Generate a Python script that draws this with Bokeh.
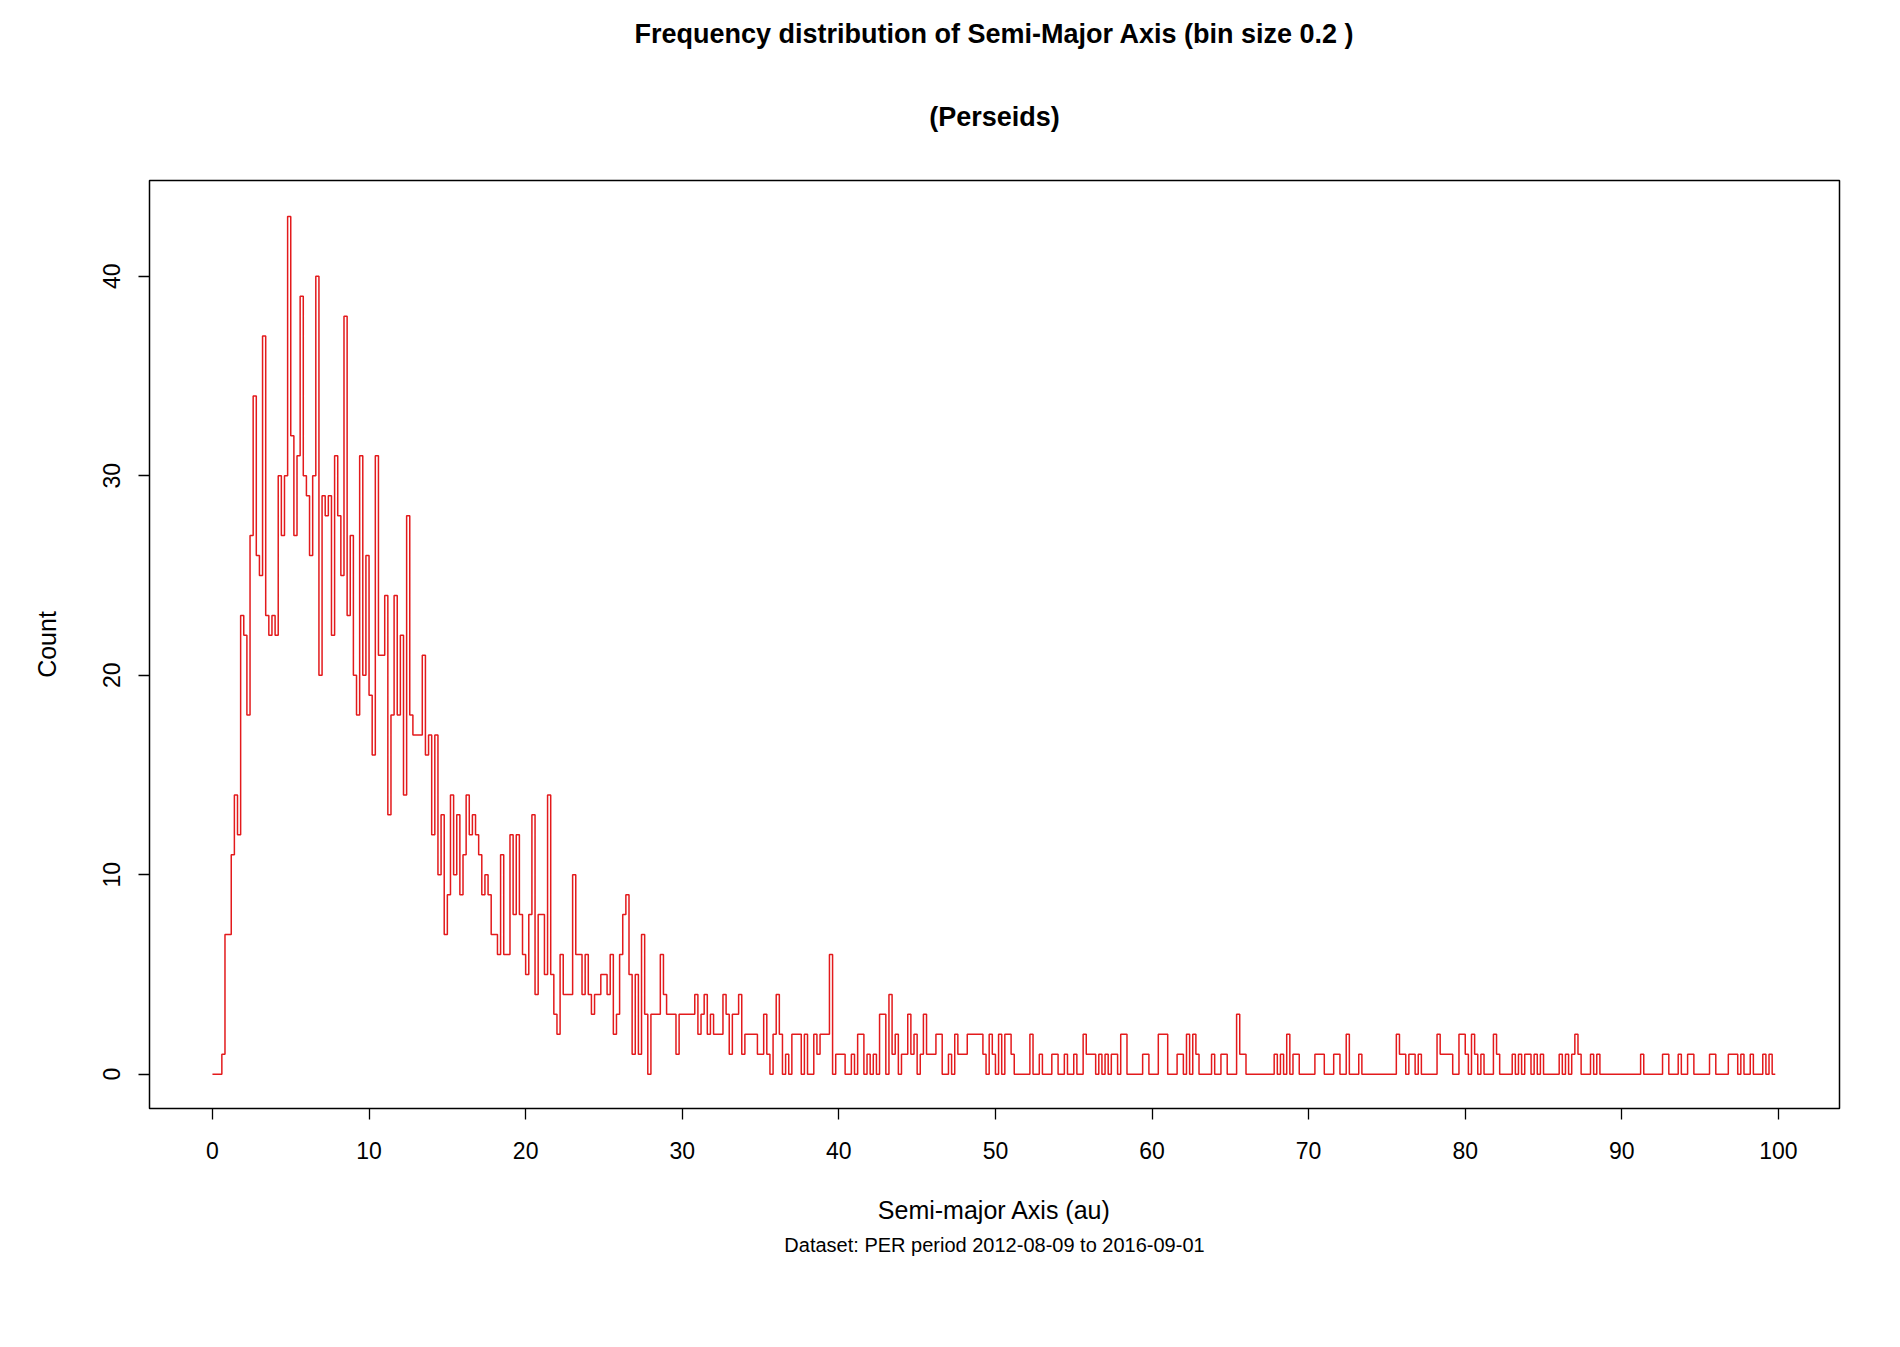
import numpy as np
from bokeh.plotting import figure
from bokeh.models import Title, FixedTicker
from bokeh.embed import file_html
from bokeh.resources import INLINE

bin_size = 0.2

# counts per 0.2 au bin, from 0 to 100 au (500 bins)
counts = [
    0, 0, 0, 1, 7, 7, 11, 14, 12, 23,
    22, 18, 27, 34, 26, 25, 37, 23, 22, 23,
    22, 30, 27, 30, 43, 32, 27, 31, 39, 30,
    29, 26, 30, 40, 20, 29, 28, 29, 22, 31,
    28, 25, 38, 23, 27, 20, 18, 31, 20, 26,
    19, 16, 31, 21, 21, 24, 13, 18, 24, 18,
    22, 14, 28, 18, 17, 17, 17, 21, 16, 17,
    12, 17, 10, 13, 7, 9, 14, 10, 13, 9,
    11, 14, 12, 13, 12, 11, 9, 10, 9, 7,
    7, 6, 11, 6, 6, 12, 8, 12, 8, 6,
    5, 8, 13, 4, 8, 8, 5, 14, 5, 3,
    2, 6, 4, 4, 4, 10, 6, 6, 4, 6,
    4, 3, 4, 4, 5, 5, 4, 6, 2, 3,
    6, 8, 9, 5, 1, 5, 1, 7, 3, 0,
    3, 3, 3, 6, 4, 3, 3, 3, 1, 3,
    3, 3, 3, 3, 4, 2, 3, 4, 2, 3,
    2, 2, 2, 4, 3, 1, 3, 3, 4, 1,
    2, 2, 2, 2, 1, 1, 3, 1, 0, 2,
    4, 2, 0, 1, 0, 2, 2, 2, 0, 2,
    0, 0, 2, 1, 2, 2, 2, 6, 0, 1,
    1, 1, 0, 0, 1, 0, 2, 2, 0, 1,
    0, 1, 0, 3, 3, 0, 4, 1, 2, 0,
    1, 1, 3, 1, 2, 0, 1, 3, 1, 1,
    1, 2, 2, 0, 0, 1, 0, 2, 1, 1,
    1, 2, 2, 2, 2, 2, 1, 0, 2, 1,
    0, 2, 0, 2, 2, 1, 0, 0, 0, 0,
    0, 2, 0, 0, 1, 0, 0, 0, 1, 1,
    0, 0, 1, 0, 0, 1, 0, 0, 2, 1,
    1, 1, 0, 1, 0, 1, 0, 1, 1, 0,
    2, 2, 0, 0, 0, 0, 0, 1, 1, 0,
    0, 0, 2, 2, 2, 0, 0, 0, 1, 1,
    0, 2, 0, 2, 1, 0, 0, 0, 0, 1,
    0, 0, 1, 1, 0, 0, 0, 3, 1, 1,
    0, 0, 0, 0, 0, 0, 0, 0, 0, 1,
    0, 1, 0, 2, 0, 1, 1, 0, 0, 0,
    0, 0, 1, 1, 1, 0, 0, 0, 1, 1,
    0, 0, 2, 0, 0, 0, 1, 0, 0, 0,
    0, 0, 0, 0, 0, 0, 0, 0, 2, 1,
    1, 0, 1, 1, 0, 1, 0, 0, 0, 0,
    0, 2, 1, 1, 1, 1, 0, 0, 2, 2,
    1, 0, 2, 1, 0, 1, 0, 0, 0, 2,
    1, 0, 0, 0, 0, 1, 0, 1, 0, 1,
    1, 0, 1, 0, 1, 0, 0, 0, 0, 0,
    1, 0, 1, 0, 1, 2, 1, 0, 0, 0,
    1, 0, 1, 0, 0, 0, 0, 0, 0, 0,
    0, 0, 0, 0, 0, 0, 1, 0, 0, 0,
    0, 0, 0, 1, 1, 0, 0, 0, 1, 0,
    0, 1, 1, 0, 0, 0, 0, 0, 1, 1,
    0, 0, 0, 0, 1, 1, 1, 0, 1, 0,
    0, 1, 0, 0, 0, 1, 0, 1, 0, 0,
]
x_ticks = [0, 10, 20, 30, 40, 50, 60, 70, 80, 90, 100]
y_ticks = [0, 10, 20, 30, 40]

edges = np.arange(len(counts)) * bin_size

FONT = "Liberation Sans"

p = figure(width=1884, height=1320, output_backend="svg", toolbar_location=None,
           tools="", x_range=(-4.02, 103.9), y_range=(-1.72, 44.8),
           min_border_left=149, min_border_right=45, min_border_top=180,
           min_border_bottom=212)

p.step(edges, counts, mode="after", line_color="#e31a1c", line_width=1.5)

p.add_layout(Title(text="(Perseids)", align="center", text_font=FONT,
                   text_font_size="27px", text_font_style="bold",
                   text_color="black", standoff=98), "above")
p.add_layout(Title(text="Frequency distribution of Semi-Major Axis (bin size 0.2 )",
                   align="center", text_font=FONT, text_font_size="27px",
                   text_font_style="bold", text_color="black", standoff=4), "above")
p.add_layout(Title(text="Dataset: PER period 2012-08-09 to 2016-09-01", align="center",
                   text_font=FONT, text_font_size="20px", text_font_style="normal",
                   text_color="black"), "below")

p.grid.grid_line_color = None
p.outline_line_color = "black"
p.outline_line_width = 1.5

p.xaxis.ticker = FixedTicker(ticks=x_ticks)
p.yaxis.ticker = FixedTicker(ticks=y_ticks)
p.xaxis.axis_label = "Semi-major Axis (au)"
p.yaxis.axis_label = "Count"
for ax in (p.xaxis, p.yaxis):
    ax.axis_line_color = None
    ax.minor_tick_line_color = None
    ax.major_tick_in = 0
    ax.major_tick_out = 11
    ax.major_tick_line_color = "black"
    ax.major_tick_line_width = 1.3
    ax.major_label_text_font = FONT
    ax.major_label_text_font_size = "23px"
    ax.major_label_text_color = "black"
    ax.axis_label_text_font = FONT
    ax.axis_label_text_font_size = "25px"
    ax.axis_label_text_font_style = "normal"
    ax.axis_label_text_color = "black"
p.xaxis.major_label_standoff = 22
p.xaxis.axis_label_standoff = 34
p.yaxis.major_label_orientation = "vertical"
p.yaxis.major_label_standoff = 18
p.yaxis.axis_label_standoff = 40

open("out.html", "w").write(file_html(p, INLINE))
